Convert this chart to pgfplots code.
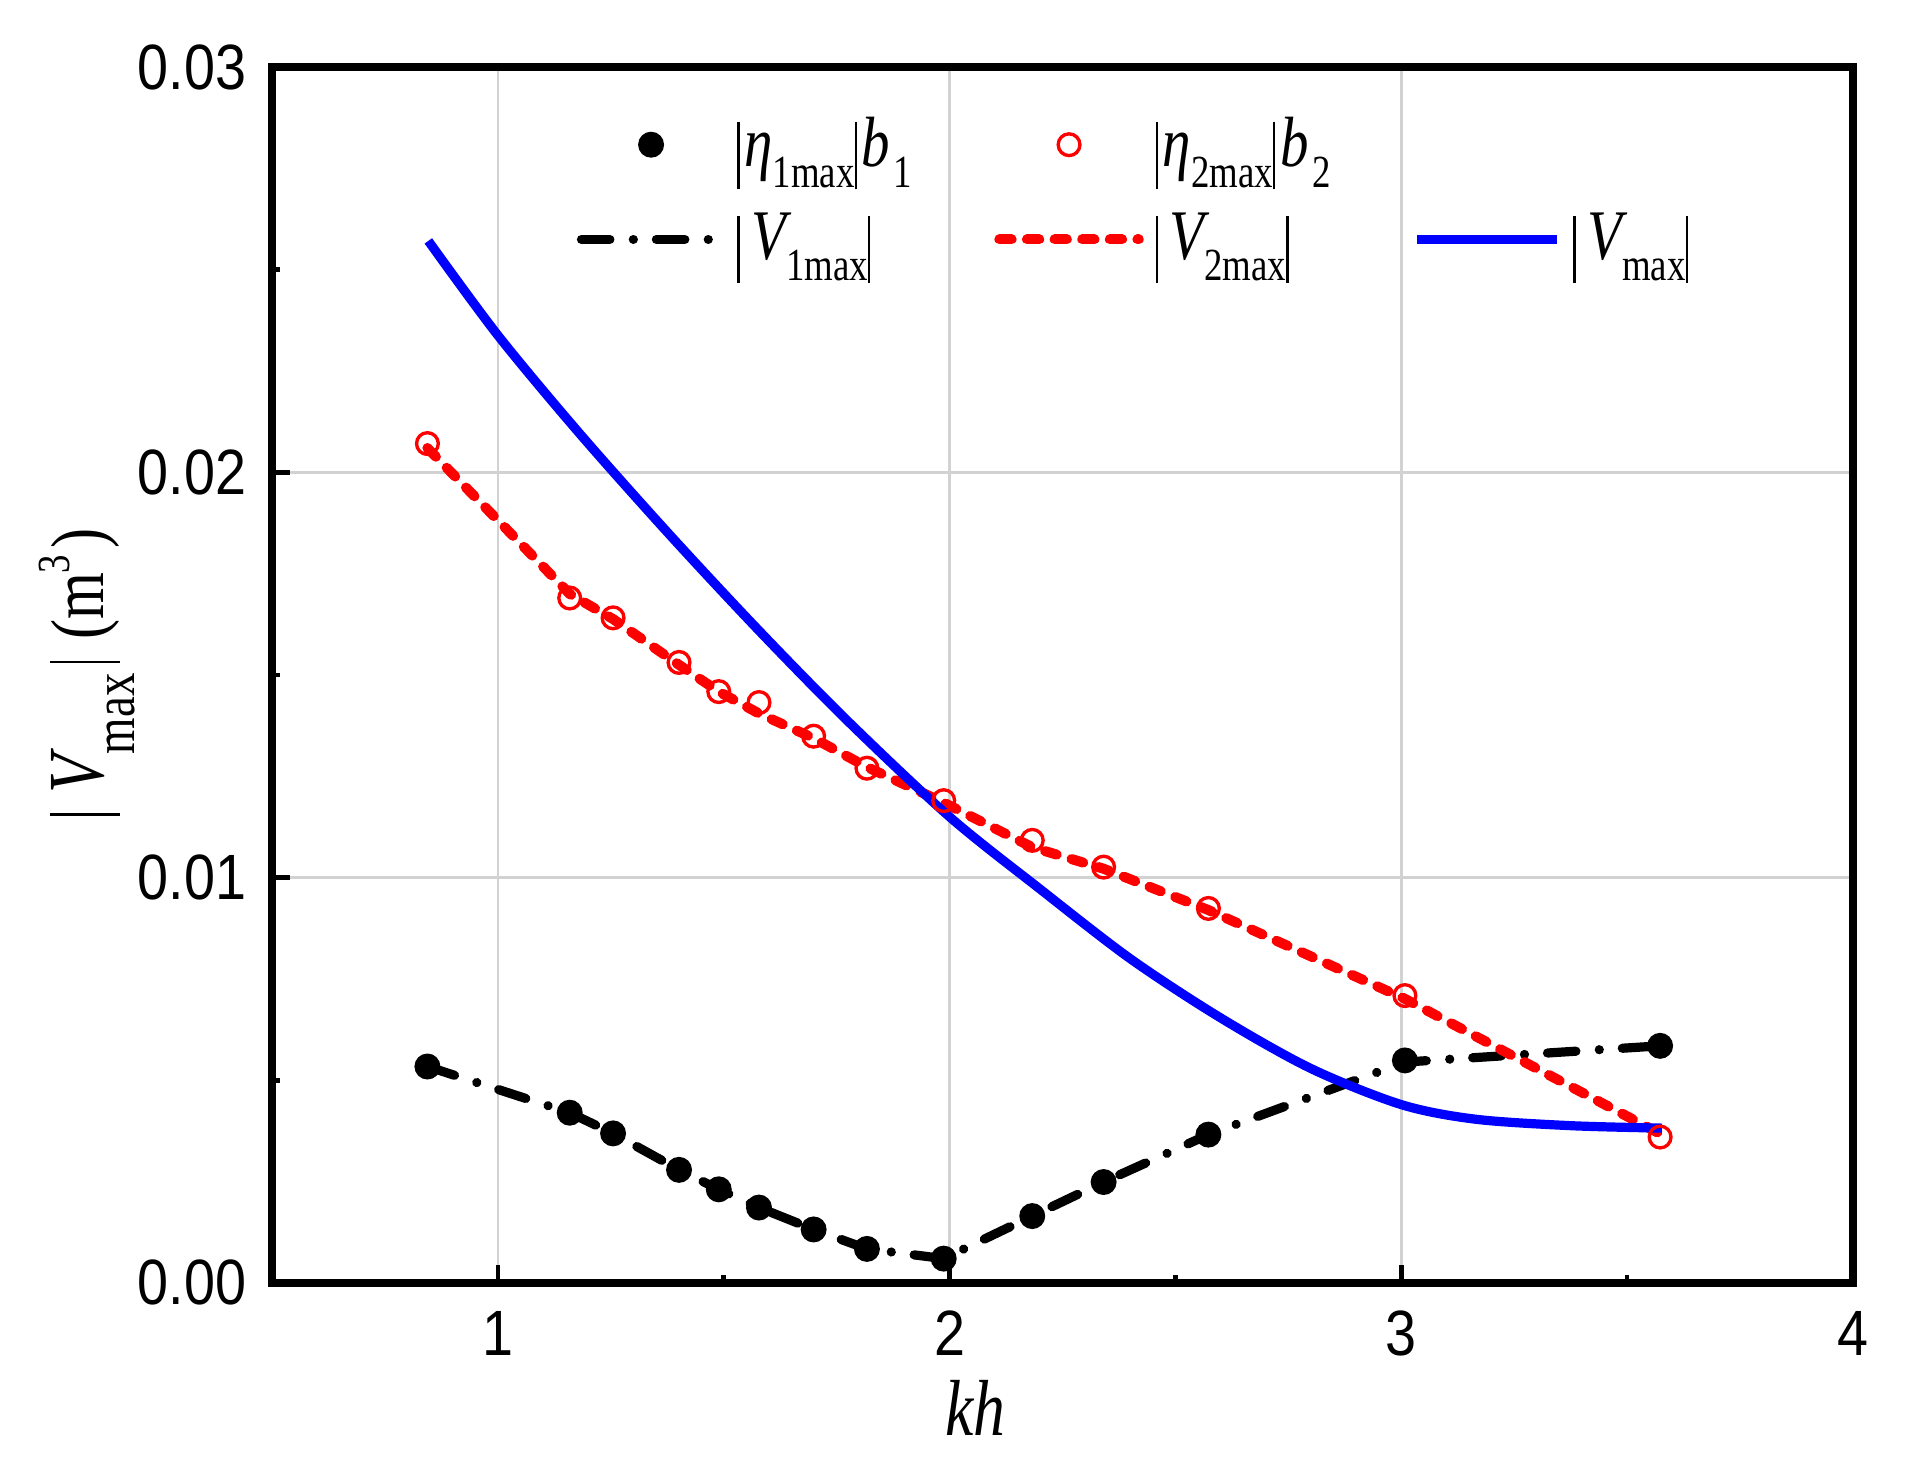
\documentclass[border=0pt]{standalone}
\usepackage{fontspec}
\usepackage{pgfplots}
\pgfplotsset{compat=1.18}
\setmainfont{Liberation Serif}
\newfontfamily\ticksf[FakeStretch=0.87]{Liberation Sans}
\newfontfamily\cond[FakeStretch=0.8]{Liberation Serif}
\newcommand{\tickfont}{\ticksf\fontsize{15.3}{18}\selectfont}
\newcommand{\vb}{\rule[-5.5pt]{0.55pt}{16pt}}
\newcommand{\sub}[1]{\raisebox{-5pt}{\cond\fontsize{11}{12}\selectfont #1}}
\newcommand{\lgf}{\cond\fontsize{17}{19}\selectfont}
\definecolor{gridgray}{RGB}{210,210,210}
\definecolor{pblue}{RGB}{0,0,255}
\definecolor{pred}{RGB}{255,0,0}
\pgfplotsset{
  marklegend/.style={legend image code/.code={\draw[##1,mark repeat=2,mark phase=2] plot coordinates {(0cm,0cm)(0.585cm,0cm)(1.17cm,0cm)};}},
  linelegend/.style={legend image code/.code={\draw[##1] (0cm,0cm) -- (1.17cm,0cm);}},
}

\pgfplotstableread{
x y
0.844 0.00534
1.159 0.00420
1.255 0.00369
1.401 0.00279
1.489 0.00231
1.578 0.00186
1.699 0.00132
1.817 0.00084
1.987 0.00060
2.183 0.00165
2.341 0.00249
2.573 0.00366
3.008 0.00549
3.573 0.00585
}\etaone
\pgfplotstableread{
x y
0.844 0.00534
1.159 0.00420
1.255 0.00369
1.401 0.00279
1.489 0.00231
1.578 0.00186
1.699 0.00132
1.817 0.00084
1.987 0.00060
2.183 0.00165
2.341 0.00249
2.573 0.00366
3.008 0.00545
3.573 0.00585
}\Vone
\pgfplotstableread{
x y
0.844 0.02071
1.159 0.01690
1.255 0.01641
1.401 0.01531
1.489 0.01459
1.578 0.01432
1.699 0.01349
1.817 0.01270
1.987 0.01190
2.183 0.01092
2.341 0.01026
2.573 0.00924
3.008 0.00709
3.573 0.00360
}\etatwo
\pgfplotstableread{
x y
0.844 0.02060
1.159 0.01700
1.255 0.01638
1.401 0.01525
1.489 0.01459
1.578 0.01405
1.699 0.01344
1.817 0.01273
1.987 0.01185
2.183 0.01075
2.341 0.01022
2.573 0.00920
3.008 0.00701
3.573 0.00368
}\Vtwo
\pgfplotstableread{
x y
0.846 0.02571
1.000 0.02338
1.180 0.02097
1.377 0.01850
1.575 0.01613
1.773 0.01388
2.000 0.01150
2.200 0.00972
2.400 0.00800
2.600 0.00654
2.800 0.00529
3.000 0.00440
3.164 0.00404
3.376 0.00388
3.577 0.00382
}\Vall

\begin{document}
\begin{tikzpicture}
\begin{axis}[
  scale only axis,
  width=13.279cm, height=10.213cm,
  xmin=0.5, xmax=4, ymin=0, ymax=0.03,
  axis line style={line width=1.7pt},
  xtick={1,2,3,4}, xticklabels={1,2,3,4},
  ytick={0,0.01,0.02,0.03}, yticklabels={0.00,0.01,0.02,0.03},
  scaled y ticks=false, scaled x ticks=false,
  minor xtick={1.5,2.5,3.5}, minor ytick={0.005,0.015,0.025},
  xtick pos=left, ytick pos=left,
  tick align=inside,
  major tick length=0.15cm, minor tick length=0.07cm,
  every tick/.style={black, line width=1.1pt},
  grid=major,
  major grid style={gridgray, line width=0.6pt},
  ticklabel style={font=\tickfont},
  xticklabel style={inner sep=0pt, yshift=-0.23cm},
  yticklabel style={inner sep=0pt, xshift=-0.21cm},
  xlabel={\cond\fontsize{19}{21}\selectfont\itshape kh},
  xlabel style={at={(axis description cs:0.4447,0)}, anchor=base, yshift=-1.28cm},
  ylabel={\cond\fontsize{18}{20}\selectfont\rule[-4pt]{0.6pt}{16.7pt}\hspace{4.8pt}{\fontsize{19}{20}\selectfont\itshape V}\raisebox{-7.6pt}{\fontsize{14}{15}\selectfont max}\hspace{2.4pt}\rule[-4pt]{0.6pt}{16.7pt}\hspace{5pt}(m\raisebox{8pt}{\fontsize{11}{12}\selectfont 3}\hspace{1.5pt})},
  ylabel style={at={(axis description cs:-0.1069,0.5025)}, anchor=base, inner sep=0pt},
  legend columns=3,
  legend style={draw=none, fill=none, inner sep=0pt, outer sep=0pt,
    at={(axis description cs:0.1928,0.959)}, anchor=north west,
    nodes={inner sep=0pt},
    row sep=0.34cm,
    /tikz/every odd column/.append style={column sep=0.10cm},
    /tikz/every even column/.append style={column sep=0.2cm}},
  linelegend,
  clip=false,
]
\addplot[only marks, mark=*, mark size=2.9pt, black, marklegend]
  table[x=x,y=y]{\etaone};
\addlegendentry{\makebox[1.96cm][l]{\lgf\vb\hspace{1.2pt}{\itshape η}\sub{1max}\vb\hspace{1.2pt}{\itshape b}\hspace{0.8pt}\sub{1}}}
\addplot[only marks, mark=o, mark size=2.6pt, pred, mark options={line width=0.8pt}, marklegend]
  table[x=x,y=y]{\etatwo};
\addlegendentry{\makebox[1.96cm][l]{\lgf\vb\hspace{1.2pt}{\itshape η}\sub{2max}\vb\hspace{1.2pt}{\itshape b}\hspace{0.8pt}\sub{2}}}
\addlegendimage{empty legend}
\addlegendentry{\makebox[1.96cm][l]{}}
\addplot[black, line width=2.2pt, line cap=round, dash pattern=on 6.8pt off 5.6pt on 0.01pt off 5.5pt]
  table[x=x,y=y]{\Vone};
\addlegendentry{\makebox[1.96cm][l]{\lgf\vb\,{\itshape V}\sub{1max}\vb}}
\addplot[pred, line width=2.4pt, line cap=round, dash pattern=on 2.9pt off 3.7pt]
  table[x=x,y=y]{\Vtwo};
\addlegendentry{\makebox[1.96cm][l]{\lgf\vb\,{\itshape V}\sub{2max}\vb}}
\addplot[pblue, line width=2.2pt, smooth]
  table[x=x,y=y]{\Vall};
\addlegendentry{\makebox[1.96cm][l]{\lgf\vb\,{\itshape V}\sub{max}\vb}}
\end{axis}
\pgfresetboundingbox
\path[use as bounding box] (-2.285cm,-1.520cm) rectangle (13.716cm,10.776cm);
\end{tikzpicture}
\end{document}
